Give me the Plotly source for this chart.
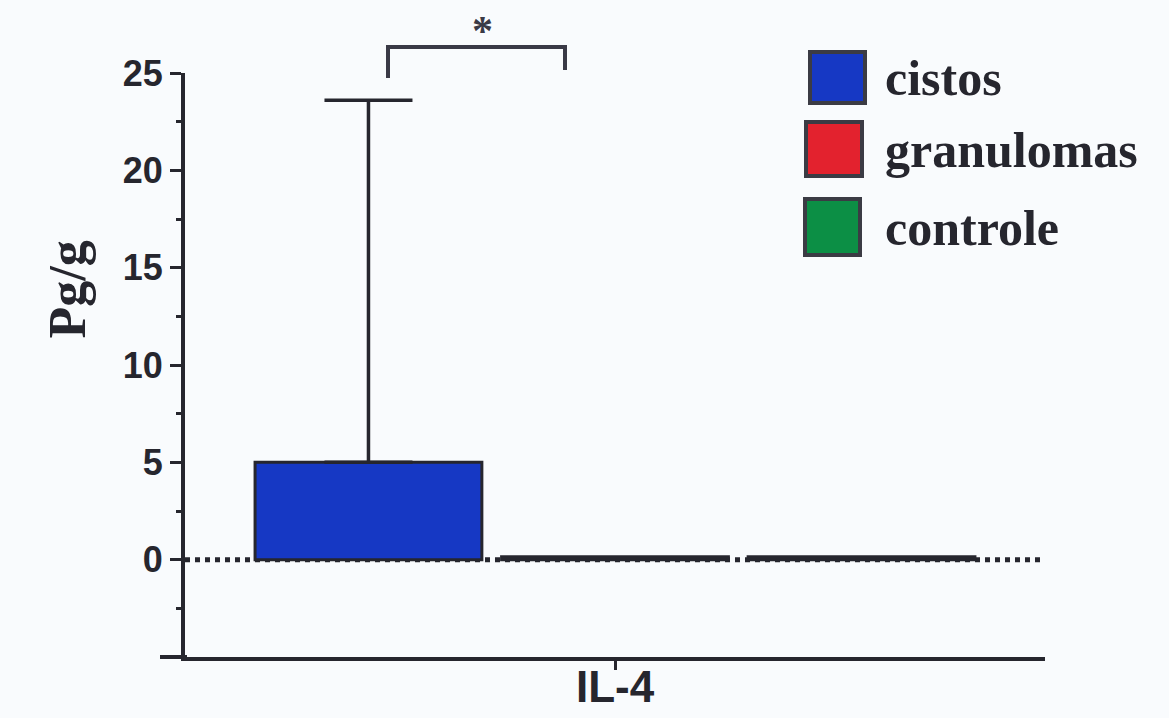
import plotly.graph_objects as go

# Data
cytokine = ["IL-4"]
groups = ["cistos", "granulomas", "controle"]
means = [5.0, 0.15, 0.15]
sem_upper = [18.6, 0.0, 0.0]
colors = ["#1638c4", "#e3222e", "#0c8f45"]
y_ticks = [0, 5, 10, 15, 20, 25]

W, H = 1169, 718
ML, MR, MT, MB = 185, 124, 73, 61
PW, PH = W - ML - MR, H - MT - MB
INK = "#26262e"


def px(xp):
    return (xp - ML) / PW


def py(yp):
    return (H - MB - yp) / PH


fig = go.Figure()
for name, m, e, c in zip(groups, means, sem_upper, colors):
    fig.add_trace(go.Bar(
        x=cytokine, y=[m], name=name,
        marker=dict(color=c, line=dict(color=INK, width=3)),
        error_y=dict(type="data", symmetric=False, array=[e], arrayminus=[0],
                     color=INK, thickness=3.5, width=44, visible=e > 0),
        showlegend=False,
    ))

shapes = [
    # dotted zero baseline
    dict(type="line", xref="x", yref="y", x0=-0.5, x1=0.5, y0=0, y1=0,
         line=dict(color=INK, width=5, dash="dot"), layer="below"),
    # left extension of the x axis line
    dict(type="line", xref="paper", yref="paper", x0=px(160), x1=px(187), y0=0, y1=0,
         line=dict(color=INK, width=4)),
    # significance bracket
    dict(type="path", xref="paper", yref="paper",
         path=f"M {px(388)},{py(78)} L {px(388)},{py(47)} L {px(565)},{py(47)} L {px(565)},{py(70)}",
         line=dict(color="#3a3a46", width=4)),
]

annotations = [
    dict(text="*", xref="paper", yref="paper", x=px(482), y=py(6), yanchor="top",
         showarrow=False,
         font=dict(family="Liberation Serif", size=42, color="#3a3a46", weight="bold")),
    dict(text="Pg/g", xref="paper", yref="paper", x=px(36), y=py(290),
         textangle=-90, showarrow=False,
         font=dict(family="Liberation Serif", size=52, color=INK, weight="bold")),
    # category label under the x axis
    dict(text=cytokine[0], xref="x", yref="paper", x=0, y=py(686),
         yanchor="middle", showarrow=False,
         font=dict(family="Liberation Sans", size=44, color=INK, weight="bold")),
]

# legend boxes and labels
legend_rows = [(52, 103, 810, 865, 78), (122, 176, 806, 862, 150), (199, 255, 805, 860, 228)]
for (y0, y1, x0, x1, yc), name, c in zip(legend_rows, groups, colors):
    shapes.append(dict(type="rect", xref="paper", yref="paper",
                       x0=px(x0), x1=px(x1), y0=py(y1), y1=py(y0),
                       fillcolor=c, line=dict(color="#3b3b44", width=4)))
    annotations.append(dict(text=name, xref="paper", yref="paper",
                            x=px(883), y=py(yc), xanchor="left", yanchor="middle",
                            showarrow=False,
                            font=dict(family="Liberation Serif", size=50, color=INK,
                                      weight="bold")))

fig.update_layout(
    width=W, height=H,
    margin=dict(l=ML, r=MR, t=MT, b=MB),
    paper_bgcolor="#f9fbfd", plot_bgcolor="rgba(0,0,0,0)",
    barmode="group", bargap=0.14, bargroupgap=0.08,
    shapes=shapes, annotations=annotations,
    xaxis=dict(range=[-0.5, 0.5], showline=True, linecolor=INK, linewidth=4,
               ticks="outside", ticklen=9, tickwidth=3, tickcolor=INK,
               showticklabels=False,
               showgrid=False, zeroline=False, automargin=False),
    yaxis=dict(range=[-5, 25], showline=True, linecolor=INK, linewidth=4,
               tickvals=y_ticks, ticks="outside", ticklen=11, tickwidth=3,
               tickcolor=INK, showgrid=False, zeroline=False, automargin=False,
               tickfont=dict(family="Liberation Sans", size=36, color=INK, weight="bold"),
               minor=dict(tickvals=[-2.5, 2.5, 7.5, 12.5, 17.5, 22.5],
                          ticks="outside", ticklen=5, tickwidth=3, tickcolor=INK)),
)

fig.write_html("out.html")
